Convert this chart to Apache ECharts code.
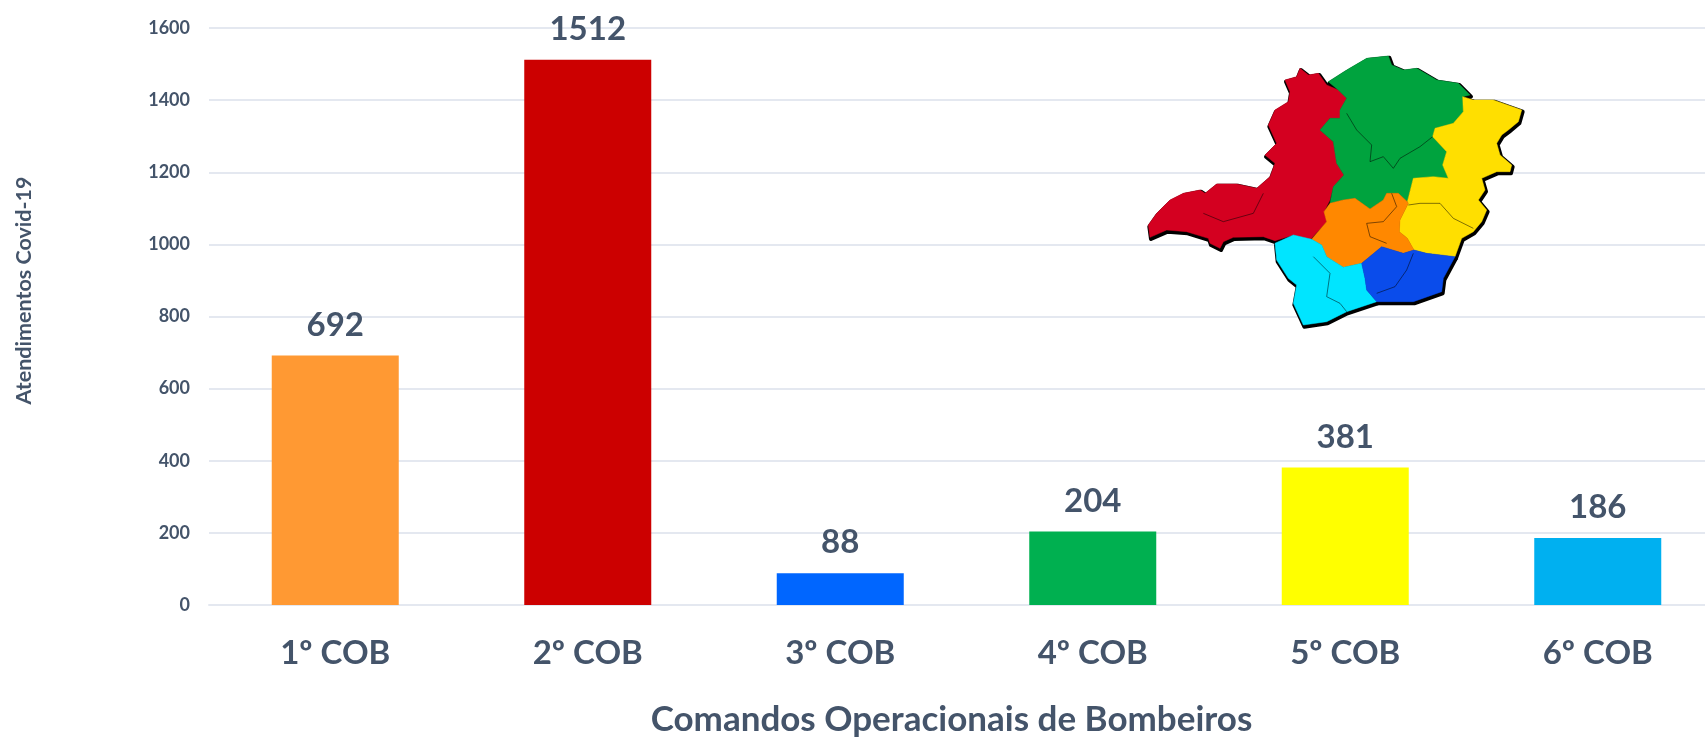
<!DOCTYPE html>
<html><head><meta charset="utf-8">
<style>html,body{margin:0;padding:0;background:#fff}#c{width:1705px;height:738px}</style>
<script src="https://cdn.jsdelivr.net/npm/echarts@6/dist/echarts.min.js"></script>
</head><body><div id="c"></div>
<script>
const categories = ['1º COB','2º COB','3º COB','4º COB','5º COB','6º COB'];
const values = [692,1512,88,204,381,186];
const barColors = ['#FF9933','#CC0000','#0066FF','#00B050','#FFFF00','#00B0F0'];
const textColor = '#44546A';
const font = 'Lato';

const regionRed = [[85,585],[110,550],[125,535],[150,510],[190,490],[240,480],[255,490],[290,462],[350,462],[410,475],[450,440],[465,400],[435,375],[470,340],[445,285],[465,240],[505,215],[510,185],[495,150],[530,140],[540,115],[565,135],[595,130],[620,165],[655,180],[680,205],[660,240],[660,265],[630,265],[600,300],[640,335],[650,400],[672,435],[640,470],[630,510],[612,545],[620,575],[572,628],[520,615],[465,632],[430,620],[340,622],[310,635],[300,655],[270,640],[265,625],[200,605],[140,600],[90,622]];
const regionGreen = [[625,155],[680,120],[740,85],[805,78],[815,105],[850,120],[890,115],[950,150],[1015,160],[1050,195],[1028,200],[1030,245],[1000,280],[945,295],[938,320],[980,365],[968,405],[985,445],[940,440],[880,445],[865,500],[862,515],[835,490],[800,490],[790,510],[750,537],[705,505],[670,510],[630,520],[640,470],[672,435],[650,400],[640,335],[600,300],[630,265],[660,265],[660,240],[680,205],[655,180]];
const regionYellow = [[1028,200],[1060,210],[1120,210],[1205,240],[1195,275],[1165,300],[1145,315],[1130,340],[1140,375],[1175,405],[1170,425],[1130,425],[1085,445],[1095,480],[1075,510],[1100,540],[1085,575],[1060,605],[1025,625],[1005,680],[920,670],[882,660],[862,625],[838,605],[840,570],[865,520],[862,515],[880,445],[940,440],[985,445],[968,405],[980,365],[938,320],[945,295],[1000,280],[1030,245]];
const regionOrange = [[630,520],[670,510],[705,505],[750,537],[790,510],[800,490],[835,490],[862,515],[865,520],[840,570],[838,605],[862,625],[882,660],[850,670],[785,650],[725,700],[670,712],[620,680],[605,645],[575,628],[620,575],[612,545]];
const regionCyan = [[465,640],[520,615],[575,628],[605,645],[620,680],[670,712],[725,700],[735,745],[740,780],[770,815],[680,845],[620,875],[550,885],[520,820],[530,765],[505,745],[470,690]];
const regionBlue = [[725,700],[785,650],[850,670],[882,660],[920,670],[1005,680],[970,745],[965,785],[880,815],[770,815],[740,780],[735,745]];
const regions = [[regionRed,'#D40020'],[regionGreen,'#00A33E'],[regionYellow,'#FFDF00'],[regionOrange,'#FF8800'],[regionCyan,'#00E5FF'],[regionBlue,'#0A4CEB']];
const innerLines = [
 [[680,250],[710,300],[755,345],[750,395],[790,380],[820,415],[840,385],[900,350],[938,320]],
 [[865,525],[900,520],[960,520],[1000,565],[1060,595]],
 [[815,490],[830,530],[790,575],[740,580],[750,620],[800,640]],
 [[580,680],[630,730],[620,800],[660,820],[680,845]],
 [[880,670],[860,720],[825,770],[770,790]],
 [[430,490],[400,550],[310,575],[250,550]]
];

const mapChildren = [];
regions.forEach(([pts]) => mapChildren.push({type:'polygon',z:10,shape:{points:pts},x:3,y:5,
  style:{fill:'#000',stroke:'#000',lineWidth:12,lineJoin:'round'}}));
regions.forEach(([pts,c]) => mapChildren.push({type:'polygon',z:11,shape:{points:pts},
  style:{fill:c,stroke:c,lineWidth:1.5,lineJoin:'round'}}));
innerLines.forEach(pts => mapChildren.push({type:'polyline',z:12,shape:{points:pts},
  style:{fill:null,stroke:'rgba(0,0,0,0.6)',lineWidth:2.5}}));

const chart = echarts.init(document.getElementById('c'), null, {renderer:'canvas'});
chart.setOption({
  animation:false,
  backgroundColor:'#fff',
  textStyle:{fontFamily:font},
  grid:{left:209,width:1515,top:28,height:577,containLabel:false,outerBoundsMode:'none'},
  xAxis:{type:'category',data:categories,
    name:'Comandos Operacionais de Bombeiros',nameLocation:'middle',nameGap:97,
    nameTextStyle:{color:textColor,fontSize:35,fontWeight:'bold',fontFamily:font,padding:[0,30,0,0]},
    axisTick:{show:false},
    axisLine:{show:true,lineStyle:{color:'#E4E8F0',width:2}},
    axisLabel:{color:textColor,fontSize:33,fontWeight:'bold',fontFamily:font,margin:32}},
  yAxis:{type:'value',min:0,max:1600,interval:200,
    name:'Atendimentos Covid-19',nameLocation:'middle',nameGap:174,
    nameTextStyle:{color:textColor,fontSize:21.5,fontWeight:'bold',fontFamily:font,padding:[0,0,0,52]},
    axisLine:{show:false},axisTick:{show:false},
    axisLabel:{color:textColor,fontSize:18,fontWeight:'bold',fontFamily:font,margin:19,formatter:v=>String(v)},
    splitLine:{lineStyle:{color:'#E4E8F0',width:2}}},
  series:[{type:'bar',barWidth:127,
    data:values.map((v,i)=>({value:v,itemStyle:{color:barColors[i]}})),
    label:{show:true,position:'top',distance:14,color:textColor,fontSize:33,fontWeight:'bold',fontFamily:font}}],
  graphic:[{type:'group',x:1120,y:30,scaleX:1/3,scaleY:1/3,children:mapChildren}]
});
</script></body></html>
